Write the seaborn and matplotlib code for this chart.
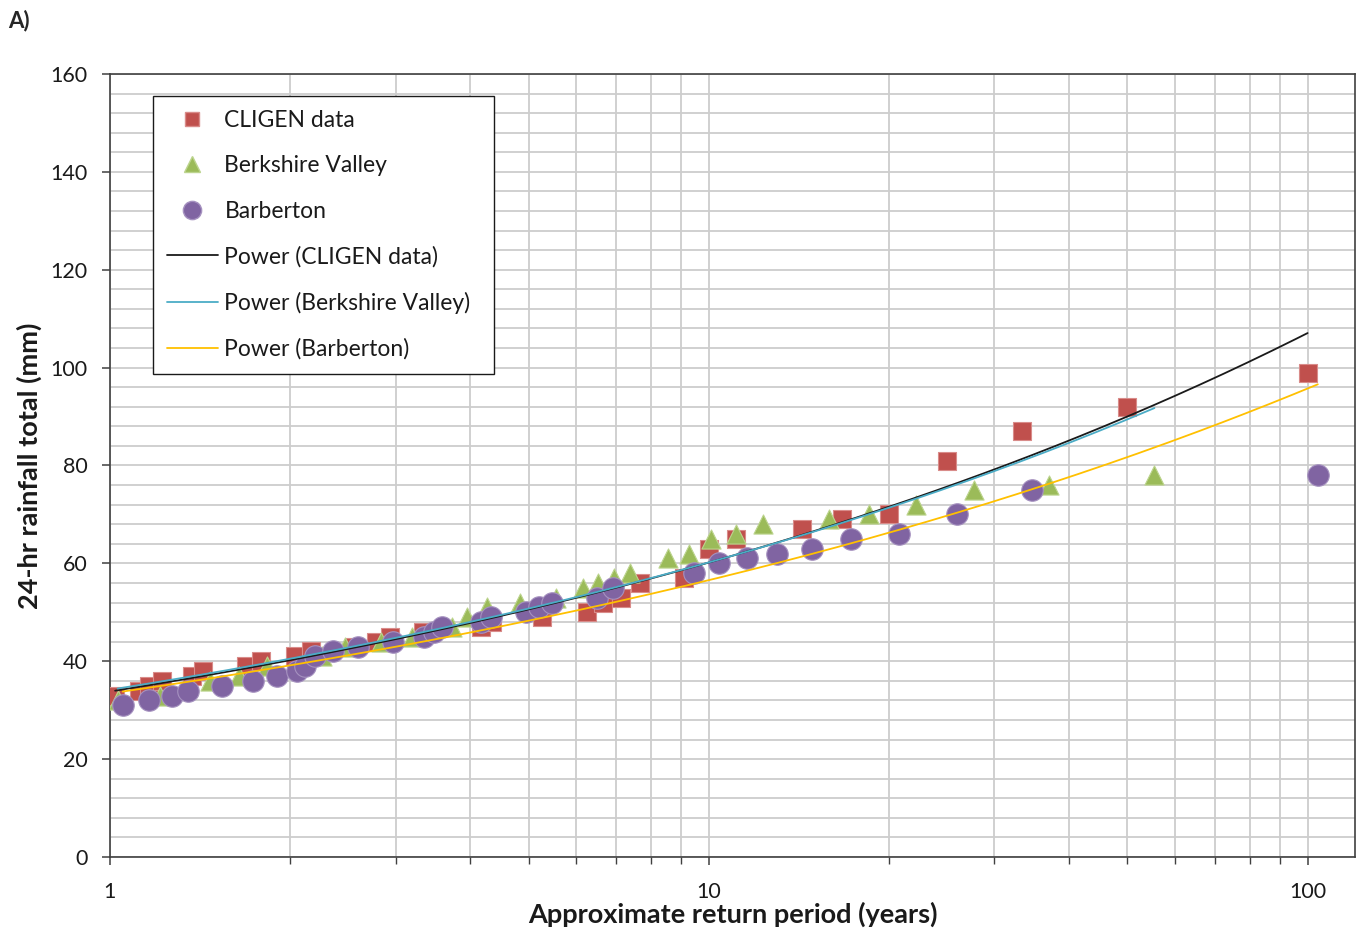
import numpy as np
import pandas as pd
import matplotlib
matplotlib.use("Agg")
import matplotlib.pyplot as plt
from matplotlib.ticker import FixedLocator, LogLocator, NullFormatter, FixedFormatter, MultipleLocator
import seaborn as sns

# Annual maximum 24-hr rainfall vs. approximate return period
cligen_T = [1.02, 1.12, 1.16, 1.22, 1.37, 1.43, 1.69, 1.79, 2.04, 2.17, 2.56, 2.78, 2.94,
            3.33, 4.17, 4.35, 5.26, 6.25, 6.67, 7.14, 7.69, 9.09, 10.0, 11.1, 14.3, 16.7,
            20.0, 25.0, 33.3, 50.0, 100.0]
cligen_mm = [33, 34, 35, 36, 37, 38, 39, 40, 41, 42, 43, 44, 45,
             46, 47, 48, 49, 50, 52, 53, 56, 57, 63, 65, 67, 69,
             70, 81, 87, 92, 99]

berkshire_T = [1.03, 1.21, 1.47, 1.64, 1.83, 2.26, 2.47, 2.83, 3.2, 3.72, 3.94, 4.27, 4.83,
               5.55, 6.17, 6.53, 6.94, 7.4, 8.54, 9.25, 10.1, 11.1, 12.33, 15.86, 18.5,
               22.2, 27.75, 37.0, 55.5]
berkshire_mm = [32, 33, 36, 37, 39, 41, 43, 44, 45, 47, 49, 51, 52,
                53, 55, 56, 57, 58, 61, 62, 65, 66, 68, 69, 70,
                72, 75, 76, 78]

barberton_T = [1.05, 1.16, 1.27, 1.35, 1.54, 1.73, 1.9, 2.05, 2.12, 2.2, 2.36, 2.6, 2.97,
               3.35, 3.47, 3.59, 4.16, 4.33, 4.95, 5.2, 5.47, 6.5, 6.93, 9.45, 10.4, 11.6,
               13.0, 14.9, 17.3, 20.8, 26.0, 34.7, 104.0]
barberton_mm = [31, 32, 33, 34, 35, 36, 37, 38, 39, 41, 42, 43, 44,
                45, 46, 47, 48, 49, 50, 51, 52, 53, 55, 58, 60, 61,
                62, 63, 65, 66, 70, 75, 78]

series_names = ["CLIGEN data", "Berkshire Valley", "Barberton"]
marker_colors = ["#C0504D", "#9BBB59", "#8064A2"]
edge_colors = ["#D98C8A", "#BCD48E", "#A692C0"]
markers = ["s", "^", "o"]
marker_sizes = [150, 190, 240]
trend_colors = ["#1A1A1A", "#4BACC6", "#FFC000"]

sns.set_style("white")
plt.rcParams["font.family"] = ["Lato", "DejaVu Sans"]

fig = plt.figure(figsize=(13.61, 9.35), dpi=100)
ax = fig.add_axes([0.0808, 0.0834, 0.9148, 0.8375])

frames = []
for name, T, mm in zip(series_names,
                       [cligen_T, berkshire_T, barberton_T],
                       [cligen_mm, berkshire_mm, barberton_mm]):
    frames.append(pd.DataFrame({"T": T, "mm": mm, "series": name}))
data = pd.concat(frames, ignore_index=True)

handles = []
for name, c, ec, m, s in zip(series_names, marker_colors, edge_colors, markers, marker_sizes):
    sub = data[data["series"] == name]
    sns.scatterplot(data=sub, x="T", y="mm", ax=ax, color=c, marker=m, s=s,
                    edgecolor=ec, linewidth=0.8, zorder=3, legend=False)
    handles.append(plt.Line2D([], [], linestyle="none", marker=m, color=c,
                              markeredgecolor=ec, markersize=np.sqrt(s) * 0.85))

# Power trendlines (least squares in log-log space), drawn over each series' range
for name, c in zip(series_names, trend_colors):
    sub = data[data["series"] == name]
    b, lna = np.polyfit(np.log(sub["T"]), np.log(sub["mm"]), 1)
    tt = np.geomspace(sub["T"].min(), sub["T"].max(), 200)
    fit = pd.DataFrame({"T": tt, "mm": np.exp(lna) * tt ** b})
    sns.lineplot(data=fit, x="T", y="mm", ax=ax, color=c, linewidth=1.3, zorder=4)
    handles.append(plt.Line2D([], [], color=c, linewidth=1.3))

ax.set_xscale("log")
ax.set_xlim(1, 120)
ax.set_ylim(0, 160)

ax.xaxis.set_major_locator(FixedLocator([1, 10, 100]))
ax.xaxis.set_major_formatter(FixedFormatter(["1", "10", "100"]))
ax.xaxis.set_minor_locator(LogLocator(base=10, subs=np.arange(2, 10)))
ax.xaxis.set_minor_formatter(NullFormatter())
ax.yaxis.set_major_locator(MultipleLocator(20))
ax.yaxis.set_minor_locator(MultipleLocator(4))

ax.grid(True, which="both", color="#CDCDCD", linewidth=1.3, zorder=0)
ax.set_axisbelow(True)
for sp in ax.spines.values():
    sp.set_color("#404040")
    sp.set_linewidth(1.2)

ax.tick_params(axis="both", which="major", direction="out", length=6, width=1.1,
               color="#404040", labelsize=15.5, labelcolor="#1A1A1A")
ax.tick_params(axis="x", which="major", pad=12, bottom=True)
ax.tick_params(axis="y", which="major", pad=10, left=True)
ax.tick_params(axis="x", which="minor", direction="out", length=5, width=1.0,
               color="#404040", bottom=True)
ax.tick_params(axis="y", which="minor", length=0)

ax.set_xlabel("Approximate return period (years)", fontsize=19.5, fontweight="bold",
              labelpad=0, color="#1A1A1A")
ax.set_ylabel("24-hr rainfall total (mm)", fontsize=19.5, fontweight="bold",
              labelpad=6, color="#1A1A1A")

labels = series_names + ["Power (CLIGEN data)", "Power (Berkshire Valley)", "Power (Barberton)"]
leg = ax.legend(handles, labels, loc="upper left", bbox_to_anchor=(0.0345, 0.622, 0.274, 0.35),
                mode="expand", fontsize=16.5, frameon=True, fancybox=False, shadow=False,
                labelspacing=1.06, handlelength=2.2, handletextpad=0.3,
                borderpad=0.62, borderaxespad=0)
leg.get_frame().set_edgecolor("#1A1A1A")
leg.get_frame().set_linewidth(1.0)
leg.get_frame().set_alpha(1)
for t in leg.get_texts():
    t.set_color("#1A1A1A")

fig.text(0.006, 0.99, "A)", fontsize=16, fontweight="bold", va="top", ha="left")

fig.savefig("out.png", dpi=100)
